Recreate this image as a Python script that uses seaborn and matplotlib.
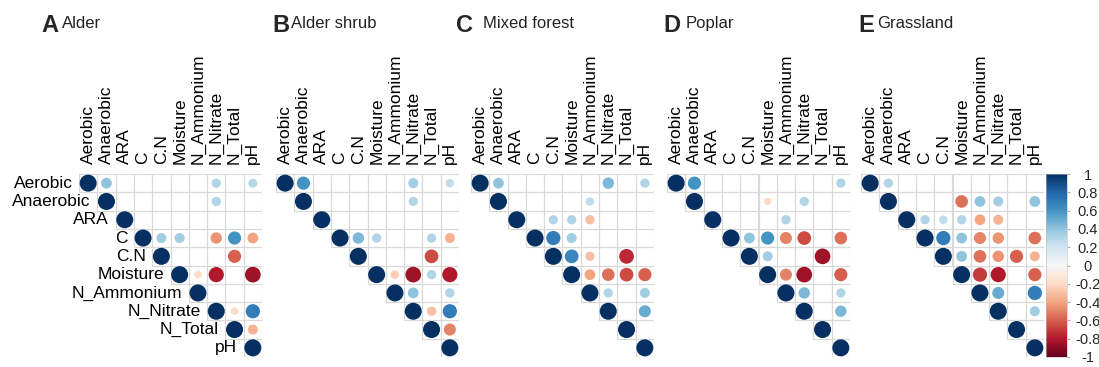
import numpy as np
import pandas as pd
import matplotlib
matplotlib.use("Agg")
import matplotlib.pyplot as plt
from matplotlib.patches import Rectangle
from matplotlib.colors import Normalize
from matplotlib.cm import ScalarMappable
import seaborn as sns

sns.set_theme(style="white")
plt.rcParams["font.family"] = ["Liberation Sans", "DejaVu Sans"]

# Soil / activity variables
variables = ["Aerobic", "Anaerobic", "ARA", "C", "C.N", "Moisture",
             "N_Ammonium", "N_Nitrate", "N_Total", "pH"]

N = None  # non-significant correlation (left blank)

# Upper triangle of each correlation matrix; row i lists columns i..9
alder = [
    [1, 0.40, N, N, N, N, N, 0.30, N, 0.28],
    [1, N, N, N, N, N, 0.30, N, N],
    [1, N, N, N, N, N, N, N],
    [1, 0.35, 0.35, N, -0.45, 0.60, -0.40],
    [1, N, N, N, -0.60, N],
    [1, -0.20, -0.80, N, -0.85],
    [1, N, N, N],
    [1, -0.20, 0.70],
    [1, -0.35],
    [1],
]

alder_shrub = [
    [1, 0.60, N, N, N, N, N, 0.35, N, 0.25],
    [1, N, N, N, N, N, 0.30, N, N],
    [1, N, N, N, N, N, N, N],
    [1, 0.45, 0.30, N, N, 0.30, -0.35],
    [1, N, N, N, -0.65, N],
    [1, -0.25, -0.85, 0.30, -0.80],
    [1, 0.40, N, 0.30],
    [1, -0.30, 0.70],
    [1, -0.50],
    [1],
]

mixed_forest = [
    [1, 0.40, N, N, N, N, N, 0.45, N, 0.30],
    [1, N, N, N, N, 0.25, N, N, N],
    [1, N, 0.30, 0.30, -0.30, N, N, N],
    [1, 0.70, 0.35, N, N, N, N],
    [1, 0.65, -0.30, N, -0.75, N],
    [1, -0.40, -0.55, -0.65, -0.60],
    [1, 0.30, N, 0.35],
    [1, N, 0.50],
    [1, N],
    [1],
]

poplar = [
    [1, 0.60, N, N, N, N, N, N, N, 0.30],
    [1, N, N, N, -0.20, N, 0.30, N, N],
    [1, N, N, N, 0.30, N, N, N],
    [1, 0.40, 0.60, -0.50, -0.65, N, -0.55],
    [1, 0.35, N, N, -0.85, N],
    [1, -0.50, -0.85, N, -0.60],
    [1, 0.45, N, 0.30],
    [1, N, 0.45],
    [1, N],
    [1],
]

grassland = [
    [1, 0.30, N, N, N, N, N, N, N, N],
    [1, N, N, N, -0.55, 0.40, 0.35, N, 0.40],
    [1, 0.30, 0.25, 0.30, -0.40, -0.35, N, N],
    [1, 0.70, 0.40, -0.50, -0.45, N, -0.55],
    [1, 0.40, -0.55, -0.45, -0.60, -0.35],
    [1, -0.70, -0.80, N, -0.60],
    [1, 0.50, N, 0.70],
    [1, N, 0.35],
    [1, N],
    [1],
]

panel_letters = ["A", "B", "C", "D", "E"]
panel_titles = ["Alder", "Alder shrub", "Mixed forest", "Poplar", "Grassland"]
panel_data = [alder, alder_shrub, mixed_forest, poplar, grassland]

W, H = 1099, 367
fig = plt.figure(figsize=(W / 100, H / 100), dpi=100)

n = len(variables)
grid_left = [79, 276, 471, 667, 861]
grid_top, grid_size = 174, 183
letter_x = [41, 272, 456, 663, 858]
title_x = [62, 291, 483, 686, 877]


def to_long(rows):
    recs = []
    for i, row in enumerate(rows):
        for k, v in enumerate(row):
            if v is not None:
                recs.append({"row": i, "col": i + k, "r": v, "absr": abs(v)})
    return pd.DataFrame(recs)


cell_px = grid_size / n
max_area = (0.93 * cell_px * 0.72) ** 2

for p, rows in enumerate(panel_data):
    ax = fig.add_axes([grid_left[p] / W, (H - grid_top - grid_size) / H,
                       grid_size / W, grid_size / H])
    ax.set_xlim(-0.5, n - 0.5)
    ax.set_ylim(n - 0.5, -0.5)
    ax.axis("off")

    # cell grid over the upper triangle
    for i in range(n):
        for j in range(i, n):
            ax.add_patch(Rectangle((j - 0.5, i - 0.5), 1, 1, fill=False,
                                   edgecolor="#d9d9d9", lw=0.8, zorder=1))

    df = to_long(rows)
    sns.scatterplot(data=df, x="col", y="row", hue="r", size="absr",
                    palette="RdBu", hue_norm=(-1, 1),
                    sizes=(0, max_area), size_norm=(0, 1),
                    linewidth=0, legend=False, ax=ax, zorder=3)
    ax.set_xlim(-0.5, n - 0.5)
    ax.set_ylim(n - 0.5, -0.5)
    ax.axis("off")

    for j, name in enumerate(variables):
        ax.text(j, -1.05, name, rotation=90, ha="center", va="bottom",
                fontsize=12.5, color="black", clip_on=False)
    if p == 0:
        for i, name in enumerate(variables):
            ax.text(i - 0.85, i, name, ha="right", va="center",
                    fontsize=12.5, color="black", clip_on=False)

    fig.text(letter_x[p] / W, 1 - 32 / H, panel_letters[p], fontsize=17,
             fontweight="bold", ha="left", va="baseline")
    fig.text(title_x[p] / W, 1 - 28 / H, panel_titles[p], fontsize=12,
             ha="left", va="baseline", color="#222222")

# colour legend
cax = fig.add_axes([1046 / W, (H - 357) / H, 21 / W, 183 / H])
sm = ScalarMappable(norm=Normalize(-1, 1), cmap="RdBu")
cb = fig.colorbar(sm, cax=cax, ticks=np.linspace(-1, 1, 11))
cb.outline.set_linewidth(0.4)
cb.outline.set_edgecolor("#bbbbbb")
tick_vals = np.linspace(-1, 1, 11)
cb.set_ticklabels(["%g" % round(v, 1) for v in tick_vals])
cax.tick_params(axis="y", length=2.5, width=0.6, color="#999999",
                labelsize=10.5, pad=12.5)
for lab in cax.get_yticklabels():
    lab.set_horizontalalignment("center")

fig.savefig("out.png", dpi=100)
